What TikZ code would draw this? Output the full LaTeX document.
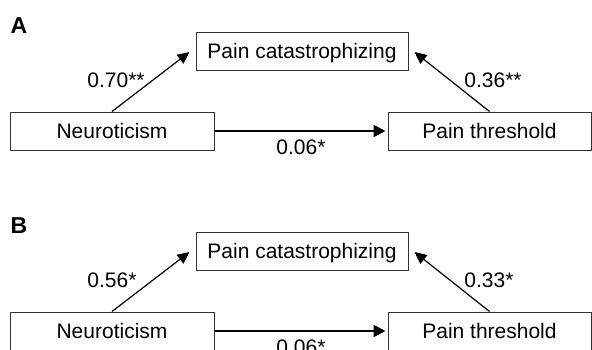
\documentclass[tikz,border=0pt]{standalone}
\usepackage{fontspec}
\setmainfont{Liberation Sans}
\usetikzlibrary{arrows.meta}
\begin{document}
\begin{tikzpicture}[x=1pt,y=-1pt,
  box/.style={draw=black!80,line width=1pt,fill=white,inner sep=0pt,
    minimum height=38pt,text height=15.1pt,text depth=0pt,
    font=\fontsize{21}{25}\selectfont},
  lbl/.style={inner sep=0pt,anchor=base,font=\fontsize{21}{25}\selectfont},
  panel/.style={inner sep=0pt,anchor=base west,font=\fontsize{23}{27}\selectfont\bfseries},
  harrow/.style={line width=1.8pt,-{Triangle[length=12pt,width=12pt]}},
  darrow/.style={line width=1.2pt,-{Triangle[length=12pt,width=11pt]}}]
\useasboundingbox (0,0) rectangle (592,349);
\clip (0,0) rectangle (592,349);
\fill[white] (0,0) rectangle (592,349);
% Panel A
\node[panel] (labA) at (10.5,33) {A};
\node[box,minimum width=212pt] (pcA) at (302,51) {Pain catastrophizing};
\node[box,minimum width=204pt] (neA) at (112,131) {Neuroticism};
\node[box,minimum width=203pt] (ptA) at (489.5,131) {Pain threshold};
\draw[harrow] (neA.east) -- ([xshift=-2pt]ptA.west);
\draw[darrow] (neA.north) -- ([xshift=-6pt,yshift=-1pt]pcA.west);
\draw[darrow] (ptA.north) -- ([xshift=6pt,yshift=-1pt]pcA.east);
\node[lbl] (l1A) at (116,87) {0.70**};
\node[lbl] (l2A) at (493,87) {0.36**};
\node[lbl] (l3A) at (301,154) {0.06*};
% Panel B
\begin{scope}[shift={(0,200)}]
\node[panel] (labB) at (10.5,33) {B};
\node[box,minimum width=212pt] (pcB) at (302,51) {Pain catastrophizing};
\node[box,minimum width=204pt] (neB) at (112,131) {Neuroticism};
\node[box,minimum width=203pt] (ptB) at (489.5,131) {Pain threshold};
\draw[harrow] (neB.east) -- ([xshift=-2pt]ptB.west);
\draw[darrow] (neB.north) -- ([xshift=-6pt,yshift=-1pt]pcB.west);
\draw[darrow] (ptB.north) -- ([xshift=6pt,yshift=-1pt]pcB.east);
\node[lbl] (l1B) at (112,87) {0.56*};
\node[lbl] (l2B) at (489,87) {0.33*};
\node[lbl] (l3B) at (301,154) {0.06*};
\end{scope}
\end{tikzpicture}
\end{document}
